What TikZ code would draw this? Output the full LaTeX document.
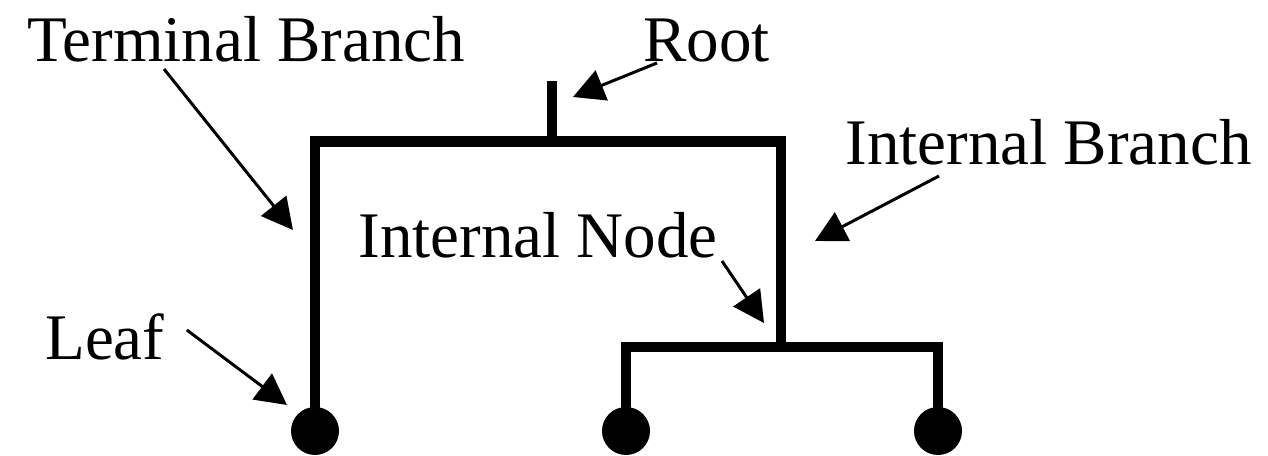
\documentclass[tikz,border=0pt]{standalone}
\usepackage{fontspec}
\setmainfont{Liberation Serif}
\usetikzlibrary{arrows.meta}

\begin{document}
\begin{tikzpicture}[
		branch/.style={line width=6pt, line join=miter},
		pointer/.style={line width=1.7pt, -{Triangle[length=0.62cm, width=0.64cm]}},
		lbl/.style={inner sep=0pt, anchor=base west, font=\fontsize{37}{44}\selectfont}
	]
			
			% Frame
			\useasboundingbox (0,0) rectangle (25.36,9.12);
			
			% Labels
			\node[lbl] (termlbl) at (0.54,7.88) {Terminal Branch};
			\node[lbl] (rootlbl) at (12.86,7.88) {Root};
			\node[lbl] (intbrlbl) at (16.9,5.82) {Internal Branch};
			\node[lbl] (intndlbl) at (7.16,3.96) {Internal Node};
			\node[lbl] (leaflbl) at (0.9,1.92) {Leaf};
			
			% Tree
			\draw[branch] (11.04,7.5) -- (11.04,6.29);
			\draw[branch] (6.3,0.5) -- (6.3,6.29) -- (15.62,6.29) -- (15.62,2.18);
			\draw[branch] (12.52,0.5) -- (12.52,2.18) -- (18.76,2.18) -- (18.76,0.5);
			
			% Leaves
			\fill (6.3,0.5) circle (0.48);
			\fill (12.52,0.5) circle (0.48);
			\fill (18.76,0.5) circle (0.48);
			
			% Arrow targets
			\coordinate (termtip) at (5.86,4.52);
			\coordinate (roottip) at (11.46,7.18);
			\coordinate (intbrtip) at (16.3,4.3);
			\coordinate (intndtip) at (15.28,2.66);
			\coordinate (leaftip) at (5.74,1.02);
			
			% Arrows
			\draw[pointer] ([shift={(2.74,-0.14)}]termlbl.base west) -- (termtip);
			\draw[pointer] ([shift={(0.28,-0.02)}]rootlbl.base west) -- (roottip);
			\draw[pointer] ([shift={(1.88,-0.22)}]intbrlbl.base west) -- (intbrtip);
			\draw[pointer] ([shift={(0.08,-0.06)}]intndlbl.base east) -- (intndtip);
			\draw[pointer] ([shift={(0.44,0.6)}]leaflbl.base east) -- (leaftip);
			
		\end{tikzpicture}
\end{document}
